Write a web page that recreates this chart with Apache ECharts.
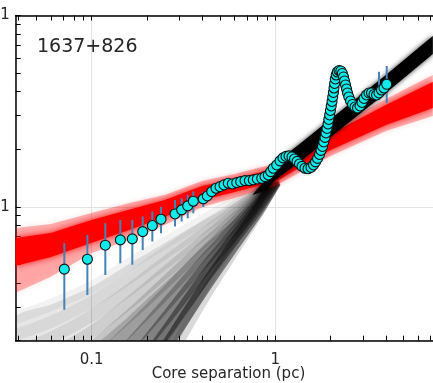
<!DOCTYPE html>
<html><head><meta charset="utf-8">
<script src="https://cdn.jsdelivr.net/npm/echarts@6/dist/echarts.min.js"></script>
<style>html,body{margin:0;padding:0;background:#fff}#c{width:433px;height:383px}</style>
</head><body><div id="c"></div>
<script>
// ---- measured data (core separation in pc, flux ratio) ----
const sep = [0.0710,0.0948,0.1187,0.1433,0.1665,0.1897,0.214,0.2387,0.2844,0.309,0.3335,0.3578,0.4055,
0.4265,0.4505,0.4756,0.5000,0.5256,0.5547,0.5833,0.6164,0.6479,0.6840,0.7219,0.7588,0.7980,0.8433,0.8790,0.9160,0.9440,0.9752,1.0177,1.0607,1.1012,1.1436,1.1874,1.2327,1.2720,1.3125,1.3543,1.3973,1.4504,1.5066,1.5644,1.6142,1.6553,1.6972,1.7403,1.7734,1.8070,1.8365,1.8646,1.8879,1.9116,1.9360,1.9553,1.9752,1.9949,2.0152,2.0357,2.0536,2.0716,2.0870,2.1027,2.1212,2.1453,2.1751,2.2231,2.2738,2.3167,2.3515,2.3810,2.4113,2.4416,2.4717,2.5124,2.5668,2.6321,2.7159,2.8024,2.8915,2.9648,3.0400,3.1368,3.2365,3.3397,3.4458,3.5563,3.6693,3.7862,3.9068,4.0413];
const flux = [0.473,0.533,0.631,0.673,0.681,0.743,0.799,0.862,0.919,0.965,1.012,1.071,1.101,
1.141,1.202,1.252,1.276,1.303,1.330,1.318,1.339,1.355,1.372,1.372,1.384,1.400,1.412,1.440,1.469,1.529,1.593,1.657,1.739,1.803,1.836,1.847,1.825,1.781,1.729,1.677,1.628,1.593,1.583,1.608,1.657,1.718,1.792,1.880,1.973,2.070,2.185,2.307,2.435,2.570,2.713,2.864,3.023,3.192,3.369,3.556,3.754,3.963,4.183,4.416,4.662,4.890,5.070,5.162,5.131,4.978,4.775,4.550,4.336,4.132,3.939,3.754,3.578,3.430,3.328,3.289,3.369,3.514,3.687,3.846,3.939,3.939,3.869,3.846,3.939,4.083,4.183,4.373];

// error bars
const errSep = [0.0710,0.0948,0.1187,0.1433,0.1665,0.1897,0.214,0.2387,0.2844,0.309,0.3335,0.3578,0.4055,
0.4265,0.4505,0.4756,0.5000,0.5256,0.5547,0.5833,0.6164,0.6479,0.6840,0.7219,0.7588,0.7980,0.8433,3.6693,4.0413];
const errLo = [0.290,0.347,0.441,0.508,0.498,0.596,0.659,0.729,0.789,0.838,0.873,0.927,1.00,
1.07,1.13,1.18,1.20,1.23,1.26,1.25,1.27,1.29,1.31,1.31,1.33,1.35,1.37,3.62,3.48];
const errHi = [0.646,0.714,0.822,0.855,0.855,0.890,0.945,1.000,1.088,1.110,1.155,1.202,1.20,
1.22,1.28,1.33,1.35,1.38,1.40,1.39,1.41,1.42,1.44,1.43,1.44,1.45,1.46,5.09,5.45];

// red model band (upper / lower envelopes)
const redX = [0.0386,0.06,0.1,0.16,0.25,0.4,0.6,0.8,1.0,1.4,2.0,4.0,7.2];
const redOuterHi = [0.777,0.815,0.930,1.049,1.155,1.367,1.487,1.598,1.677,2.082,2.555,3.664,4.890];
const redOuterLo = [0.356,0.431,0.575,0.672,0.805,1.000,1.114,1.212,1.287,1.542,1.847,2.494,2.987];
const redCoreHi  = [0.689,0.731,0.855,0.965,1.088,1.287,1.400,1.505,1.598,1.961,2.405,3.409,4.495];
const redCoreLo  = [0.492,0.548,0.649,0.758,0.887,1.088,1.198,1.287,1.351,1.637,1.984,2.680,3.289];

// black model realisations (fan), read at fanX
const fanX = [0.0386,0.06,0.1,0.16,0.25,0.4,0.6,0.8,1.0];
const fanLines = [
  [0.2633,0.3078,0.3822,0.5039,0.6486,0.8450,1.0493,1.2567,1.487],
  [0.2146,0.2508,0.3191,0.4259,0.5751,0.7770,1.0000,1.2267,1.469],
  [0.1749,0.2070,0.2696,0.3686,0.5099,0.7142,0.9530,1.1834,1.452],
  [0.1408,0.1687,0.2225,0.3152,0.4522,0.6566,0.9083,1.1552,1.434],
  [0.1081,0.1342,0.1836,0.2696,0.4010,0.6107,0.8657,1.1276,1.418],
  [0.0820,0.1043,0.1496,0.2279,0.3513,0.5615,0.8248,1.1010,1.418],
  [0.0607,0.0791,0.1176,0.1879,0.3041,0.5099,0.7770,1.0620,1.400],
  [0.0423,0.0572,0.0892,0.1514,0.2570,0.4577,0.7314,1.0244,1.384],
  [0.0295,0.0413,0.0668,0.1205,0.2172,0.4108,0.6888,0.9881,1.367],
  [0.0194,0.0278,0.0489,0.0936,0.1814,0.3641,0.6409,0.9530,1.351],
  [0.0127,0.0194,0.0353,0.0727,0.1496,0.3268,0.6034,0.9303,1.351]
];
const fanAlpha = [0.05,0.06,0.08,0.10,0.14,0.18,0.26,0.33,0.40,0.46,0.15];
// converged black band
const coreX  = [0.75,0.9,1.0,1.4,2.0,4.0,7.2];
const coreHi = [1.155,1.418,1.697,2.185,2.881,4.890,7.815];
const coreLo = [1.155,1.227,1.384,1.759,2.320,3.939,6.295];

// ticks
const xTicks = [0.04,0.05,0.06,0.07,0.08,0.09,0.1,0.2,0.3,0.4,0.5,0.6,0.7,0.8,0.9,1,2,3,4,5,6,7,8];
const yTicks = [0.2,0.3,0.4,0.5,0.6,0.7,0.8,0.9,1,2,3,4,5,6,7,8,9,10];
const xLabelVals = [0.1, 1];
const yLabelVals = [1, 10];
const xLabelText = ['0.1', '1'];
const yLabelText = ['1', '1'];

const FONT = 'DejaVu Sans';
const XMIN = 0.0386, XMAX = 8, YMIN = 0.2, YMAX = 10;
const chart = echarts.init(document.getElementById('c'), null, {renderer: 'canvas'});

function band(xs, hi, lo, style, smooth) {
  return {
    type: 'custom', coordinateSystem: 'cartesian2d', clip: true, silent: true,
    data: [[xs[0], hi[0]]],
    renderItem: function (params, api) {
      const pts = xs.map((x, i) => api.coord([x, hi[i]]));
      for (let i = xs.length - 1; i >= 0; i--) pts.push(api.coord([xs[i], lo[i]]));
      return {type: 'polygon', shape: {points: pts, smooth: smooth || 0}, style: Object.assign({}, style)};
    }
  };
}
function pick(vals, texts) {
  return v => { const i = vals.findIndex(t => Math.abs(Math.log10(t) - Math.log10(v)) < 1e-6); return i >= 0 ? texts[i] : ''; };
}

const tickStyle = {show: true, inside: true, length: 5, lineStyle: {color: '#000', width: 1}};
const gridLine = {show: true, lineStyle: {color: '#e3e3e3', width: 1}};

const fanSeries = {
  type: 'custom', coordinateSystem: 'cartesian2d', clip: true, silent: true,
  data: fanLines.map((ys, k) => [fanX[fanX.length - 1], ys[ys.length - 1], k]),
  renderItem: function (params, api) {
    const k = api.value(2);
    const pts = fanX.map((x, i) => api.coord([x, fanLines[k][i]]));
    return {type: 'polyline', shape: {points: pts, smooth: 0.3},
      style: {stroke: 'rgba(0,0,0,' + fanAlpha[k] + ')', lineWidth: 12, fill: null, lineCap: 'butt'}};
  }
};

chart.setOption({
  animation: false,
  backgroundColor: '#fff',
  title: {text: '1637+826', left: 37, top: 38, padding: 0,
    textStyle: {fontSize: 19, fontWeight: 'normal', color: '#262626', fontFamily: FONT}},
  grid: {left: 15.7, right: -8.2, top: 15.5, bottom: 42.3, outerBoundsMode: 'none', containLabel: false},
  xAxis: [{
    type: 'log', logBase: 10, min: XMIN, max: XMAX, position: 'bottom',
    axisLine: {show: true, lineStyle: {color: '#000', width: 1.5}},
    axisTick: Object.assign({customValues: xTicks}, tickStyle),
    minorTick: {show: false},
    axisLabel: {customValues: xLabelVals, formatter: pick(xLabelVals, xLabelText),
      color: '#262626', fontSize: 15, fontFamily: FONT, margin: 12},
    splitLine: {show: false},
    name: 'Core separation (pc)', nameLocation: 'middle', nameGap: 26, nameMoveOverlap: false,
    nameTextStyle: {color: '#262626', fontSize: 15, fontFamily: FONT}
  }, {
    type: 'log', logBase: 10, min: XMIN, max: XMAX, position: 'top',
    axisLine: {show: true, lineStyle: {color: '#000', width: 1.5}},
    axisTick: Object.assign({customValues: xTicks}, tickStyle),
    axisLabel: {show: false}, splitLine: {show: false}
  }, {
    type: 'log', logBase: 10, min: XMIN, max: XMAX, position: 'bottom',
    axisLine: {show: false}, axisTick: {show: false}, axisLabel: {show: false},
    splitLine: gridLine
  }],
  yAxis: [{
    type: 'log', logBase: 10, min: YMIN, max: YMAX, position: 'left',
    axisLine: {show: true, lineStyle: {color: '#000', width: 1.5}},
    axisTick: Object.assign({customValues: yTicks}, tickStyle),
    minorTick: {show: false},
    axisLabel: {customValues: yLabelVals, formatter: pick(yLabelVals, yLabelText),
      color: '#262626', fontSize: 15, fontFamily: FONT, margin: 6},
    splitLine: {show: false}
  }, {
    type: 'log', logBase: 10, min: YMIN, max: YMAX, position: 'right',
    axisLine: {show: false}, axisTick: {show: false}, axisLabel: {show: false},
    splitLine: gridLine
  }],
  series: [
    band(fanX, fanLines[0], fanLines[10], {fill: 'rgba(0,0,0,0.09)', shadowBlur: 4, shadowColor: 'rgba(0,0,0,0.1)'}, 0.2),
    band(fanX, fanLines[4], fanLines[9], {fill: 'rgba(0,0,0,0.16)'}, 0.2),
    fanSeries,
    band(redX, redOuterHi, redOuterLo, {fill: 'rgba(255,0,0,0.28)', shadowBlur: 6, shadowColor: 'rgba(255,0,0,0.4)'}),
    band(redX, redCoreHi, redCoreLo, {fill: '#ff0000', shadowBlur: 6, shadowColor: 'rgba(255,0,0,0.9)'}),
    band(coreX, coreHi, coreLo, {fill: '#000', shadowBlur: 5, shadowColor: 'rgba(0,0,0,0.8)'}),
    {
      type: 'custom', coordinateSystem: 'cartesian2d', clip: true, silent: true,
      data: errSep.map((x, i) => [x, errLo[i], errHi[i]]),
      encode: {x: 0, y: [1, 2]},
      renderItem: function (params, api) {
        const a = api.coord([api.value(0), api.value(1)]);
        const b = api.coord([api.value(0), api.value(2)]);
        return {type: 'line', shape: {x1: a[0], y1: a[1], x2: b[0], y2: b[1]},
          style: {stroke: '#4682b4', lineWidth: 2}};
      }
    },
    {
      type: 'scatter', symbol: 'circle', symbolSize: 10, silent: true,
      data: sep.map((x, i) => [x, flux[i]]),
      itemStyle: {color: '#12e9e9', borderColor: '#111', borderWidth: 1.1, opacity: 1}
    }
  ]
});
</script></body></html>
